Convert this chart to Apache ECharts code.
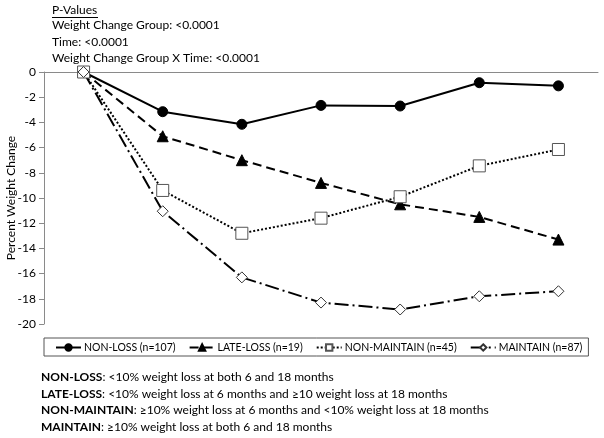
<!DOCTYPE html>
<html><head><meta charset="utf-8">
<script src="https://cdn.jsdelivr.net/npm/echarts@6/dist/echarts.min.js"></script>
<style>html,body{margin:0;padding:0;background:#fff}#c{width:604px;height:438px}</style>
</head><body><div id="c"></div>
<script>
const timePoints = ['0','3','6','9','12','15','18'];
const seriesNames = ['NON-LOSS (n=107)','LATE-LOSS (n=19)','NON-MAINTAIN (n=45)','MAINTAIN (n=87)'];
const nonLoss = [0, -3.15, -4.15, -2.65, -2.7, -0.85, -1.1];
const lateLoss = [0, -5.1, -7.0, -8.8, -10.5, -11.5, -13.3];
const nonMaintain = [0, -9.4, -12.8, -11.6, -9.9, -7.45, -6.15];
const maintain = [0, -11.05, -16.3, -18.3, -18.85, -17.8, -17.4];
const pValueLines = ['Weight Change Group: <0.0001','Time: <0.0001','Weight Change Group X Time: <0.0001'];
const yTicks = {min: -20, max: 0, interval: 2};

const font = 'Lato, "Open Sans", sans-serif';
const chart = echarts.init(document.getElementById('c'));
const mk = (name, data, symbol, size, lineType, fill, border) => ({
  name, type: 'line', data, symbol, symbolSize: size,
  lineStyle: {color: '#000', width: 2, type: lineType},
  itemStyle: {color: fill, borderColor: border, borderWidth: 1},
  emphasis: {disabled: true}, z: 3
});
chart.setOption({
  animation: false,
  textStyle: {fontFamily: font},
  grid: {left: 44, right: 6, top: 72, bottom: 114, containLabel: false, outerBoundsMode: 'none'},
  xAxis: {type: 'category', data: timePoints, boundaryGap: true,
    axisLine: {show: true, onZero: true, lineStyle: {color: '#8a8a8a', width: 1}},
    axisTick: {show: false}, axisLabel: {show: false}, splitLine: {show: false}},
  yAxis: {type: 'value', min: yTicks.min, max: yTicks.max, interval: yTicks.interval,
    name: 'Percent Weight Change', nameLocation: 'middle', nameGap: 27, nameRotate: 90,
    nameMoveOverlap: false,
    nameTextStyle: {fontSize: 12, color: '#000', fontFamily: font},
    axisLine: {show: true, lineStyle: {color: '#8a8a8a'}},
    axisTick: {show: true, inside: false, length: 5, lineStyle: {color: '#8a8a8a'}},
    axisLabel: {fontSize: 12, color: '#000', margin: 8, fontFamily: font},
    splitLine: {show: false}},
  legend: {left: 44, top: 338, borderColor: '#555', borderWidth: 1, padding: [4, 6, 3, 11],
    itemGap: 13, itemWidth: 25, itemHeight: 8,
    textStyle: {fontSize: 10.5, color: '#000', fontFamily: font, padding: [0, 0, 0, -2]},
    data: seriesNames},
  series: [
    mk(seriesNames[0], nonLoss, 'circle', 10, 'solid', '#000', '#000'),
    mk(seriesNames[1], lateLoss, 'triangle', 11, [9, 5], '#000', '#000'),
    mk(seriesNames[2], nonMaintain, 'rect', 12, [2, 2], '#fff', '#555'),
    mk(seriesNames[3], maintain, 'diamond', 11, [14, 4, 2, 4], '#fff', '#333')
  ],
  graphic: [
    {type: 'text', left: 52, top: 4, style: {text: 'P-Values', fontSize: 12, fontFamily: font, fill: '#000'}},
    {type: 'line', shape: {x1: 52, y1: 17.5, x2: 98, y2: 17.5}, style: {stroke: '#000', lineWidth: 1}},
    ...pValueLines.map((t, i) => ({type: 'text', left: 52, top: 19.5 + i * 16.5,
      style: {text: t, fontSize: 12, fontFamily: font, fill: '#000'}})),
    {type: 'text', left: 41, top: 369, style: {
      text: '{b|NON-LOSS}: <10% weight loss at both 6 and 18 months\n{b|LATE-LOSS}: <10% weight loss at 6 months and ≥10 weight loss at 18 months\n{b|NON-MAINTAIN}: ≥10% weight loss at 6 months and <10% weight loss at 18 months\n{b|MAINTAIN}: ≥10% weight loss at both 6 and 18 months',
      fontSize: 12, lineHeight: 16.5, fontFamily: font, fill: '#000',
      rich: {b: {fontWeight: 'bold', fontSize: 12, lineHeight: 16.5, fontFamily: font}}}}
  ]
});
</script></body></html>
